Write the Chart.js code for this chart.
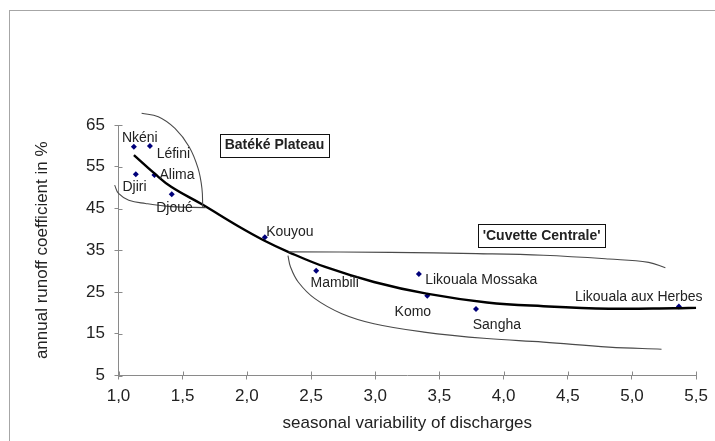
<!DOCTYPE html>
<html>
<head>
<meta charset="utf-8">
<script src="https://cdn.jsdelivr.net/npm/chart.js@4.4.1/dist/chart.umd.min.js"></script>
<style>
  html, body { margin: 0; padding: 0; background: #fff; }
  #wrap { width: 715px; height: 441px; }
</style>
</head>
<body>
<div id="wrap"><canvas id="chart" width="715" height="441"></canvas></div>
<script>
// --- data ---
const stations = ['Nkéni', 'Léfini', 'Djiri', 'Alima', 'Djoué', 'Kouyou', 'Mambili',
  'Likouala Mossaka', 'Komo', 'Sangha', 'Likouala aux Herbes'];
const variability = [1.12, 1.245, 1.135, 1.28, 1.415, 2.14, 2.54, 3.34, 3.405, 3.785, 5.365];
const runoff = [59.8, 60.0, 53.2, 53.0, 48.4, 38.1, 30.1, 29.3, 24.1, 20.9, 21.5];

// fitted curve (traced)
const trendX = [1.12, 1.28, 1.41, 1.65, 1.93, 2.13, 2.33, 2.61, 2.99, 3.4, 3.87, 4.31, 4.82, 5.33, 5.5];
const trendY = [57.8, 53.4, 50.2, 46.0, 40.8, 37.4, 34.5, 31.0, 27.4, 24.6, 22.5, 21.6, 21.0, 21.1, 21.2];

// hand drawn group envelopes (traced)
const batekeArcX = [1.18, 1.31, 1.44, 1.55, 1.62, 1.65, 1.656];
const batekeArcY = [67.8, 67.0, 64.2, 59.8, 54.6, 49.8, 45.3];
const batekeBaseX = [1.68, 1.41, 1.21, 1.08, 1.0, 0.97];
const batekeBaseY = [45.2, 45.45, 46.2, 47.0, 48.6, 50.6];
const cuvetteUpperX = [2.325, 3.12, 3.79, 4.31, 4.82, 5.13, 5.26];
const cuvetteUpperY = [34.6, 34.5, 34.2, 33.8, 32.9, 32.1, 30.8];
const cuvetteLowerX = [2.32, 2.34, 2.4, 2.53, 2.74, 2.99, 3.38, 3.87, 4.31, 4.82, 5.23];
const cuvetteLowerY = [33.7, 31.0, 27.4, 23.4, 19.8, 17.4, 15.4, 13.85, 13.0, 11.8, 11.3];

const regions = ['Batéké Plateau', "'Cuvette Centrale'"];
const regionX = [2.215, 4.296];
const regionY = [60.2, 38.5];

const xTicks = [1.0, 1.5, 2.0, 2.5, 3.0, 3.5, 4.0, 4.5, 5.0, 5.5];
const yTicks = [5, 15, 25, 35, 45, 55, 65];

// --- styles ---
const FONT = '"Liberation Sans", Arial, sans-serif';
const axisColor = '#8a8a8a';
const textColor = '#222';
// label placement relative to its point: dx, dy, align
const labelOffsets = [
  [-12, -8.4, 'left'], [6.7, 8.6, 'left'], [-13.4, 12.4, 'left'], [5, 0, 'left'],
  [-15.6, 13.4, 'left'], [1.3, -5.6, 'left'], [-5.6, 12.6, 'left'], [6.3, 6, 'left'],
  [-32.7, 16, 'left'], [-3.3, 16, 'left'], [23.7, -9.6, 'right']
];

const toPoints = (xs, ys) => xs.map((v, i) => ({ x: v, y: ys[i] }));

const envelope = (xs, ys) => ({
  type: 'line',
  data: toPoints(xs, ys),
  borderColor: '#4a4a4a',
  borderWidth: 1.1,
  pointRadius: 0,
  tension: 0.4,
  clip: false
});

const frame = {
  id: 'frame',
  beforeDraw(chart) {
    const { ctx } = chart;
    ctx.save();
    ctx.fillStyle = '#fff';
    ctx.fillRect(0, 0, chart.width, chart.height);
    ctx.strokeStyle = '#a6a6a6';
    ctx.lineWidth = 1;
    ctx.strokeRect(9.5, 10.5, 900, 600);
    ctx.restore();
  }
};

// Excel style ticks crossing the axis
const innerTicks = {
  id: 'innerTicks',
  afterDraw(chart) {
    const { ctx, scales: { x, y } } = chart;
    ctx.save();
    ctx.strokeStyle = axisColor;
    ctx.lineWidth = 1;
    ctx.beginPath();
    x.ticks.forEach(t => {
      const px = Math.round(x.getPixelForValue(t.value)) + 0.5;
      ctx.moveTo(px, x.top);
      ctx.lineTo(px, x.top - 4);
    });
    y.ticks.forEach(t => {
      const py = Math.round(y.getPixelForValue(t.value)) + 0.5;
      ctx.moveTo(y.right, py);
      ctx.lineTo(y.right + 4, py);
    });
    ctx.stroke();
    ctx.restore();
  }
};

const annotations = {
  id: 'annotations',
  afterDatasetsDraw(chart) {
    const { ctx, scales: { x, y } } = chart;
    ctx.save();
    ctx.fillStyle = textColor;
    ctx.textBaseline = 'middle';
    ctx.font = '14px ' + FONT;
    stations.forEach((name, i) => {
      const [dx, dy, align] = labelOffsets[i];
      ctx.textAlign = align;
      ctx.fillText(name, x.getPixelForValue(variability[i]) + dx, y.getPixelForValue(runoff[i]) + dy);
    });
    ctx.font = 'bold 14px ' + FONT;
    ctx.textAlign = 'center';
    ctx.strokeStyle = '#111';
    ctx.lineWidth = 1;
    regions.forEach((name, i) => {
      const cx = x.getPixelForValue(regionX[i]);
      const cy = y.getPixelForValue(regionY[i]);
      const w = ctx.measureText(name).width + 9;
      const h = 23;
      ctx.strokeRect(Math.round(cx - w / 2) + 0.5, Math.round(cy - h / 2) + 0.5, Math.round(w), h);
      ctx.fillText(name, cx, cy + 0.5);
    });
    ctx.restore();
  }
};

new Chart(document.getElementById('chart'), {
  type: 'scatter',
  data: {
    datasets: [
      envelope(batekeArcX, batekeArcY),
      envelope(batekeBaseX, batekeBaseY),
      envelope(cuvetteUpperX, cuvetteUpperY),
      envelope(cuvetteLowerX, cuvetteLowerY),
      {
        type: 'line',
        data: toPoints(trendX, trendY),
        borderColor: '#000',
        borderWidth: 2.4,
        pointRadius: 0,
        tension: 0.4
      },
      {
        data: toPoints(variability, runoff),
        pointStyle: 'rectRot',
        pointRadius: 3,
        backgroundColor: '#00007a',
        borderColor: '#00007a',
        borderWidth: 0
      }
    ]
  },
  options: {
    responsive: false,
    animation: false,
    events: [],
    layout: { padding: { top: 125, right: 13.3, left: 0, bottom: 0 } },
    plugins: { legend: { display: false }, tooltip: { enabled: false } },
    scales: {
      x: {
        type: 'linear',
        min: 1, max: 5.5,
        afterBuildTicks: s => { s.ticks = xTicks.map(v => ({ value: v })); },
        afterFit: s => { s.height = 65.5; },
        ticks: {
          color: textColor,
          padding: 7,
          font: { family: FONT, size: 17 },
          callback: v => v.toFixed(1).replace('.', ',')
        },
        grid: { drawOnChartArea: false, tickLength: 4, color: axisColor },
        border: { color: axisColor },
        title: {
          display: true,
          text: 'seasonal variability of discharges',
          color: textColor,
          font: { family: FONT, size: 17 },
          padding: { top: 0, bottom: 7 }
        }
      },
      y: {
        type: 'linear',
        min: 5, max: 65,
        afterBuildTicks: s => { s.ticks = yTicks.map(v => ({ value: v })); },
        afterFit: s => { s.width = 118.5; },
        ticks: {
          color: textColor,
          padding: 9.5,
          font: { family: FONT, size: 17 }
        },
        grid: { drawOnChartArea: false, tickLength: 4, color: axisColor },
        border: { color: axisColor },
        title: {
          display: true,
          text: 'annual runoff coefficient in %',
          color: textColor,
          font: { family: FONT, size: 17 },
          padding: { top: 32, bottom: 0 }
        }
      }
    }
  },
  plugins: [frame, innerTicks, annotations]
});
</script>
</body>
</html>
